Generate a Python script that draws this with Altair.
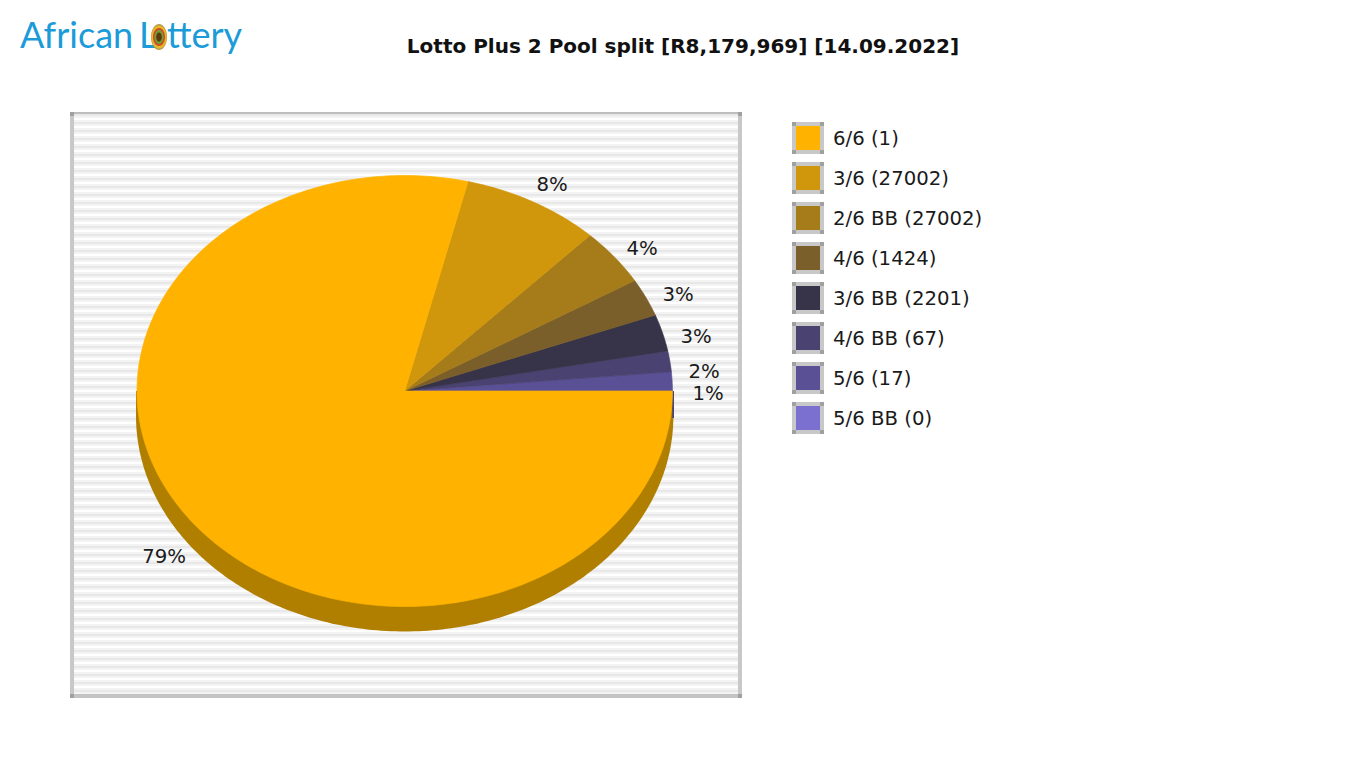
import math
import altair as alt
import pandas as pd

# ---- chart values -------------------------------------------------
TITLE = "Lotto Plus 2 Pool split [R8,179,969] [14.09.2022]"
categories = ["6/6 (1)", "3/6 (27002)", "2/6 BB (27002)", "4/6 (1424)",
              "3/6 BB (2201)", "4/6 BB (67)", "5/6 (17)", "5/6 BB (0)"]
colors = ["#FFB300", "#D0960C", "#A67C1B", "#7B5F2A",
          "#37344A", "#4A4270", "#5A5096", "#7B6FD0"]
shares = [78.8, 8.36, 4.28, 2.83, 2.75, 1.56, 1.42, 0.0]
pct_labels = ["79%", "8%", "4%", "3%", "3%", "2%", "1%"]
pct_x = [164, 552, 642, 678, 696, 704, 708]
pct_y = [557, 185, 249, 295, 337, 372, 394]

# ---- geometry -----------------------------------------------------
CX, CY, RX, RY, DEPTH = 404.7, 391.0, 267.7, 215.5, 25
SIDE = "#B07F00"
STRIP = "#353380"

def px_x(field="x"):
    return alt.X(f"{field}:Q", scale=alt.Scale(domain=[8, 1358], nice=False, zero=False), axis=None)

def px_y(field="y"):
    return alt.Y(f"{field}:Q", scale=alt.Scale(domain=[760, 8], nice=False, zero=False), axis=None)

def rects(rows):
    df = pd.DataFrame(rows, columns=["x", "x2", "y", "y2", "c"])
    return alt.Chart(df).mark_rect(stroke=None).encode(
        x=px_x(), x2="x2:Q", y=px_y(), y2="y2:Q",
        color=alt.Color("c:N", scale=None, legend=None))

def polygons(rows, seam=0.0):
    df = pd.DataFrame(rows, columns=["g", "i", "x", "y", "c"])
    return alt.Chart(df).mark_line(filled=True, interpolate="linear-closed", strokeWidth=seam).encode(
        x=px_x(), y=px_y(), order="i:Q", detail="g:N",
        fill=alt.Fill("c:N", scale=None, legend=None),
        stroke=alt.Stroke("c:N", scale=None, legend=None))

def texts(rows, **kw):
    df = pd.DataFrame(rows, columns=["x", "y", "t"])
    return alt.Chart(df).mark_text(**kw).encode(x=px_x(), y=px_y(), text="t:N")

# frame + stripes
bands = ["#FFFFFF", "#F3F3F3", "#E8E8E8", "#F3F3F3"]
FL, FR, FT, FB = 70, 742, 112, 698
stripe_rows = []
y0 = 114
k = 0
while y0 < FB - 4:
    stripe_rows.append((FL + 4, FR - 4, y0, min(y0 + 2, FB - 4), bands[(k + 2) % 4]))
    y0 += 2
    k += 1
frame_rows = stripe_rows + [
    (FL, FR, FT, FT + 2, "#BDBDBD"),
    (FL, FR, FB - 4, FB, "#C4C4C4"),
    (FL, FL + 4, FT, FB, "#C8C8C8"),
    (FR - 4, FR, FT, FB, "#C8C8C8"),
    (FL, FL + 4, FT, FT + 4, "#A0A0A0"),
    (FL, FL + 4, FB - 4, FB, "#A0A0A0"),
    (FR - 4, FR, FT, FT + 4, "#A0A0A0"),
    (FR - 4, FR, FB - 4, FB, "#A0A0A0"),
]

# pie: drawn anticlockwise from the east, last category first
side_rows, pie_rows = [], []
for i in range(0, 181):
    t = math.radians(i)
    side_rows.append((0, i, CX + (RX + 1) * math.cos(t), CY + DEPTH + RY * math.sin(t), SIDE))
side_rows.append((0, 181, CX - RX - 1, CY, SIDE))
side_rows.append((0, 182, CX + RX + 1, CY, SIDE))

angle = 0.0
for c, (share, col) in enumerate(zip(reversed(shares), reversed(colors))):
    sweep = share * 3.6
    if sweep <= 0:
        continue
    pie_rows.append((c, 0, CX, CY, col))
    n = max(2, int(sweep))
    for j in range(n + 1):
        t = math.radians(angle + sweep * j / n)
        pie_rows.append((c, j + 1, CX + RX * math.cos(t), CY - RY * math.sin(t), col))
    angle += sweep

strip_rows = [(CX + RX, CX + RX + 1.5, CY, CY + DEPTH + 2, STRIP)]

# legend
leg_rows, leg_text = [], []
for i, (lab, col) in enumerate(zip(categories, colors)):
    top = 122 + 40 * i
    L, R, B = 792, 824, top + 32
    leg_rows += [
        (L, R, top, B, "#C8C8C8"),
        (L + 4, R - 4, top + 4, B - 4, col),
        (L, L + 4, top, top + 4, "#A0A0A0"), (R - 4, R, top, top + 4, "#A0A0A0"),
        (L, L + 4, B - 4, B, "#A0A0A0"), (R - 4, R, B - 4, B, "#A0A0A0"),
    ]
    leg_text.append((833, top + 17, lab))

# logo medallion
def ellipse(g, cx, cy, rx, ry, col):
    return [(g, j, cx + rx * math.cos(math.radians(j * 10)),
             cy + ry * math.sin(math.radians(j * 10)), col) for j in range(36)]

medal = (ellipse(100, 159, 37, 8, 13, "#B89A50") + ellipse(101, 159, 37, 7.5, 11.5, "#E8B820")
         + ellipse(102, 159, 37, 6, 9, "#D04830") + ellipse(103, 159, 37, 4.5, 7, "#6FA030")
         + ellipse(104, 159, 37, 2.8, 4.5, "#5A3A10"))

FONT = "DejaVu Sans"
LOGO = "#1B9BD8"
layers = [
    rects(frame_rows),
    polygons(side_rows),
    rects(strip_rows),
    polygons(pie_rows, seam=0.7),
    texts(list(zip(pct_x, pct_y, pct_labels)), font=FONT, fontSize=19.7, align="center", baseline="middle", color="#1a1a1a"),
    rects(leg_rows),
    texts(leg_text, font=FONT, fontSize=19.7, align="left", baseline="middle", color="#1a1a1a"),
    texts([(683, 47, TITLE)], font=FONT, fontSize=20, fontWeight="bold", align="center", baseline="middle", color="#111111"),
    texts([(20, 48, "African"), (139, 48, "L"), (167, 48, "ttery")], font="Lato", fontSize=36, align="left", baseline="alphabetic", color=LOGO),
    polygons(medal),
]

chart = alt.layer(*layers).properties(
    width=1350, height=752, padding=0,
    autosize=alt.AutoSizeParams(type="none"),
    background="#FFFFFF",
).configure_view(stroke=None)

chart.save("out.html", embed_options={"renderer": "svg", "actions": False})
